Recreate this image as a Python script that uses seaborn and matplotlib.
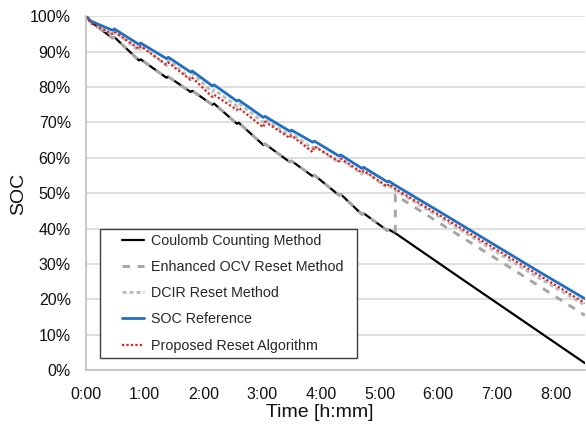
import numpy as np
import pandas as pd
import matplotlib
matplotlib.use("Agg")
import matplotlib.pyplot as plt
from matplotlib.patches import Rectangle
import seaborn as sns

# ---- data (time in hours, SOC in %) ----
time_pre = [0.00, 0.08, 0.45, 0.48, 0.90, 0.93, 1.37, 1.40, 1.78, 1.81, 2.15, 2.18,
            2.57, 2.60, 3.02, 3.05, 3.47, 3.50, 3.86, 3.89, 4.31, 4.34, 4.70, 4.73,
            5.13, 5.16, 5.27]

coulomb_pre = [100.0, 98.4, 93.8, 94.1, 87.5, 87.8, 82.6, 82.9, 78.6, 78.9, 75.0, 75.3,
               69.6, 69.9, 63.6, 63.9, 58.8, 59.1, 54.8, 55.1, 49.4, 49.7, 44.0, 44.3,
               39.5, 39.7, 38.7]
reference_pre = [100.0, 98.6, 96.0, 96.4, 92.0, 92.4, 88.0, 88.4, 84.2, 84.5, 80.3, 80.6,
                 76.0, 76.3, 71.4, 71.7, 67.5, 67.8, 64.4, 64.7, 60.5, 60.8, 57.0, 57.3,
                 53.2, 53.4, 52.2]
proposed_pre = [100.0, 98.0, 95.0, 95.6, 90.8, 91.5, 86.3, 86.9, 82.0, 82.6, 77.2, 77.8,
                73.5, 74.1, 68.6, 70.2, 65.6, 66.3, 61.6, 63.2, 59.0, 59.8, 55.8, 56.4,
                51.9, 52.6, 51.2]
dcir_pre = [100.0, 98.2, 94.6, 95.8, 90.2, 91.8, 86.0, 87.6, 82.4, 83.8, 78.6, 79.2,
            74.6, 75.4, 70.0, 70.8, 66.2, 66.8, 62.6, 63.4, 58.6, 59.6, 55.4, 56.2,
            51.6, 52.0, 50.8]

time_post_cc = [6.40, 8.50]
coulomb_post = [25.8, 2.0]

time_post_ocv = [5.27, 6.00, 7.13, 8.50]
ocv_post = [49.5, 41.8, 30.0, 15.5]

time_post = [6.00, 6.90, 7.70, 8.50]
reference_post = [45.0, 36.0, 28.0, 20.2]
proposed_post = [44.0, 35.0, 27.0, 19.0]
dcir_post = [43.5, 34.3, 26.2, 18.4]

x_ticks = [0, 1, 2, 3, 4, 5, 6, 7, 8]
x_ticklabels = ["0:00", "1:00", "2:00", "3:00", "4:00", "5:00", "6:00", "7:00", "8:00"]
y_ticks = [0, 10, 20, 30, 40, 50, 60, 70, 80, 90, 100]

labels = ["Coulomb Counting Method", "Enhanced OCV Reset Method", "DCIR Reset Method",
          "SOC Reference", "Proposed Reset Algorithm"]

# ---- assemble series ----
series = {
    labels[0]: (time_pre + time_post_cc, coulomb_pre + coulomb_post),
    labels[1]: (time_pre + time_post_ocv, coulomb_pre + ocv_post),
    labels[2]: (time_pre + time_post, dcir_pre + dcir_post),
    labels[3]: (time_pre + time_post, reference_pre + reference_post),
    labels[4]: (time_pre + time_post, proposed_pre + proposed_post),
}
styles = {
    labels[0]: dict(color="black", linewidth=1.6, linestyle="-"),
    labels[1]: dict(color="#a6a6a6", linewidth=2.1, linestyle=(0, (2.6, 2.6))),
    labels[2]: dict(color="#bdbdbd", linewidth=2.1, linestyle=(0, (1.4, 1.0))),
    labels[3]: dict(color="#1f6fc6", linewidth=2.0, linestyle="-"),
    labels[4]: dict(color="#e0211b", linewidth=1.6, linestyle=(0, (1.0, 1.0))),
}

sns.set_style("white")
plt.rcParams["font.family"] = ["Liberation Sans", "DejaVu Sans"]

fig = plt.figure(figsize=(5.86, 4.25), dpi=100)
ax = fig.add_axes([0.147, 0.129, 0.851, 0.833])

for lab in labels:
    t, v = series[lab]
    df = pd.DataFrame({"t": t, "soc": v})
    sns.lineplot(data=df, x="t", y="soc", ax=ax, estimator=None, sort=False,
                 label=lab, **styles[lab])

ax.set_xlim(0, 8.5)
ax.set_ylim(0, 100)
ax.set_xticks(x_ticks)
ax.set_xticklabels(x_ticklabels)
ax.set_yticks(y_ticks)
ax.set_yticklabels([f"{y}%" for y in y_ticks])
ax.tick_params(axis="both", labelsize=11.5, length=0, colors="#111111")
ax.tick_params(axis="y", pad=11)
ax.tick_params(axis="x", pad=12)

ax.grid(axis="y", color="#d9d9d9", linewidth=1.2)
ax.grid(axis="x", visible=False)
ax.set_axisbelow(True)
for s in ["top", "right"]:
    ax.spines[s].set_visible(False)
for s in ["left", "bottom"]:
    ax.spines[s].set_color("#bfbfbf")
    ax.spines[s].set_linewidth(1.2)

ax.set_xlabel("Time [h:mm]", fontsize=14, color="#111111")
ax.set_ylabel("SOC", fontsize=14, color="#111111")
ax.xaxis.set_label_coords(0.469, -0.095)
ax.yaxis.set_label_coords(-0.118, 0.497)

# legend box (frame drawn separately to get wider horizontal padding)
box = Rectangle((0.028, 0.034), 0.515, 0.364, transform=ax.transAxes,
                facecolor="white", edgecolor="#404040", linewidth=1.0, zorder=4.5)
ax.add_patch(box)
leg = ax.legend(loc="upper left", bbox_to_anchor=(0.072, 0.385), fontsize=10.3,
                frameon=False, handlelength=1.55, handletextpad=0.45,
                labelspacing=0.85, borderpad=0, borderaxespad=0)
leg.set_zorder(5)

fig.savefig("out.png", dpi=100)
